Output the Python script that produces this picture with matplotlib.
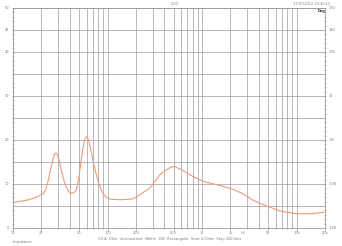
import matplotlib.pyplot as plt
import numpy as np
from matplotlib.ticker import FixedLocator, MultipleLocator, NullFormatter

# impedance curve (Hz, Ohm)
freq = [10, 14, 17.8, 22, 24.6, 26.7, 28.5, 30.9, 34, 38.5, 42.7, 48, 53,
        57.7, 60, 64, 70.8, 80, 90, 102, 135, 188, 220, 280, 360, 424, 496,
        600, 770, 1020, 1460, 2000, 2590, 3600, 4970, 6850, 9800, 14000, 19500]
ohm = [5.8, 6.3, 7.0, 8.1, 12.5, 16.3, 17.7, 15.5, 11.0, 8.1, 7.8, 8.7, 16.3,
       20.8, 21.4, 19.7, 14.8, 10.2, 7.6, 6.6, 6.4, 6.6, 7.6, 9.0, 12.2, 13.3, 14.1,
       13.3, 11.9, 10.6, 9.8, 9.0, 8.0, 6.1, 4.9, 3.8, 3.25, 3.2, 3.6]

x_ticks = [10, 20, 50, 100, 200, 500, 1000, 2000, 5000, 10000, 20000]
x_labels = ['10', '20', '50', '100', '200', '500', '1k', '2k', '5k', '10k', '20k']
y_ticks = [0, 10, 20, 30, 40, 45, 50]
deg_labels = ['-180', '-108', '-36', '36', '108', '144', '180']

grid_col = '#9a9a9a'
txt_col = '#7a7a7a'
fs = 2.5

fig = plt.figure(figsize=(3.42, 2.46), dpi=100)
ax = fig.add_axes([13 / 342, 18 / 246, 312 / 342, 220 / 246])

# smooth the read points on a log axis for drawing
lf = np.log10(freq)
xs = np.linspace(lf[0], lf[-1], 600)
ys = np.interp(xs, lf, ohm)
k = np.ones(9) / 9
ys = np.convolve(np.pad(ys, 4, mode='edge'), k, mode='valid')
ax.plot(10 ** xs, ys, color='#ee9a78', lw=0.8)

ax.set_xscale('log')
ax.set_xlim(10, 20000)
ax.set_ylim(0, 50)

minor_x = [m * d for d in [10, 100, 1000, 10000] for m in range(2, 10) if m * d < 20000]
ax.xaxis.set_major_locator(FixedLocator(x_ticks))
ax.xaxis.set_minor_locator(FixedLocator(minor_x))
ax.xaxis.set_minor_formatter(NullFormatter())
ax.set_xticklabels(x_labels)
ax.grid(True, which='both', axis='x', color=grid_col, lw=0.5)

ax.yaxis.set_major_locator(MultipleLocator(5))
ax.yaxis.set_minor_locator(MultipleLocator(1))
ax.set_yticklabels([])
ax.grid(True, which='major', axis='y', color=grid_col, lw=0.5)
for v in y_ticks:
    ax.text(-0.012, v / 50, str(v), transform=ax.transAxes, ha='right',
            va='center', fontsize=fs, color=txt_col)

for i, v in enumerate(y_ticks):
    ax.text(1.012, v / 50, deg_labels[i], transform=ax.transAxes, ha='left',
            va='center', fontsize=fs, color=txt_col)

ax.tick_params(axis='both', which='both', colors=grid_col, width=0.5,
               labelsize=fs, labelcolor=txt_col, pad=0.5)
ax.tick_params(axis='both', which='major', length=2)
ax.tick_params(axis='both', which='minor', length=1)
ax.tick_params(axis='y', which='both', right=True, direction='inout')
for s in ax.spines.values():
    s.set_color(grid_col)
    s.set_linewidth(0.6)

fig.text(175 / 342, 1 - 4 / 246, 'CLIO', fontsize=fs, color=txt_col, ha='center', va='center')
fig.text(312 / 342, 1 - 4 / 246, '17/07/2012 10:30:12', fontsize=fs, color=txt_col,
         ha='center', va='center')
fig.text(321 / 342, 1 - 11 / 246, 'Deg', fontsize=fs, color='#303030',
         ha='center', va='center', weight='bold')
fig.text(243 / 342, 18 / 246 - 0.014, 'Hz', fontsize=fs, color=txt_col, ha='center', va='top')
fig.text(170 / 342, 1 - 239 / 246,
         'CH A  Ohm  Unsmoothed  48kHz  16K  Rectangular  Start 0.00ms  Stop 340.0ms',
         fontsize=fs, color=txt_col, ha='center', va='center')
fig.text(13 / 342, 1 - 242 / 246, 'Impedance', fontsize=fs, color=txt_col,
         ha='left', va='center')

fig.savefig('out.png', dpi=100)
